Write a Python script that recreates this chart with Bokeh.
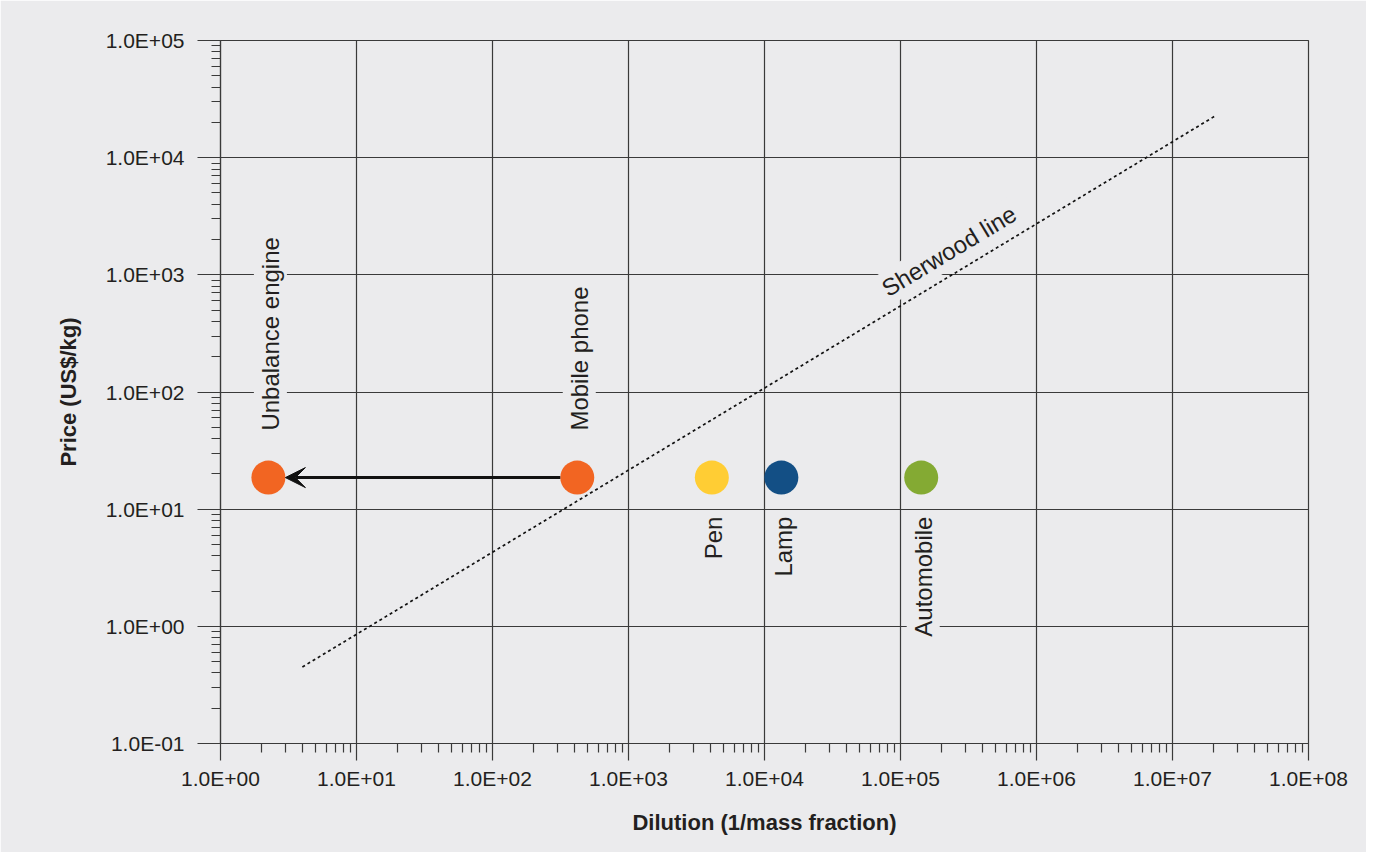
import math
from bokeh.plotting import figure
from bokeh.models import (FixedTicker, CustomJSTickFormatter, Label, Arrow,
                          VeeHead, ColumnDataSource, Range1d)
from bokeh.embed import file_html
from bokeh.resources import INLINE

# ---------------- data ----------------
products = ["Unbalance engine", "Mobile phone", "Pen", "Lamp", "Automobile"]
dilution = [2.25, 420, 4100, 13300, 142000]
price = [18.6, 18.6, 18.6, 18.6, 18.6]
colors = ["#F26522", "#F26522", "#FFCD34", "#134F85", "#84AA33"]
label_side = ["above", "above", "below", "below", "below"]

sherwood_x = [4.0, 2.1e7]
sherwood_y = [0.45, 2.3e4]
sherwood_label = "Sherwood line"

x_ticks = [1e0, 1e1, 1e2, 1e3, 1e4, 1e5, 1e6, 1e7, 1e8]
y_ticks = [1e-1, 1e0, 1e1, 1e2, 1e3, 1e4, 1e5]

x_title = "Dilution (1/mass fraction)"
y_title = "Price (US$/kg)"

# ---------------- style ----------------
BG = "#EBEBED"
INK = "#231F20"
GRID = "#3A3A3A"
FONT = "Liberation Sans"

W, H = 1366, 852
ML, MR, MT = 220, 58, 40
frame_w = W - ML - MR
frame_h = 703
MB = H - MT - frame_h
dec_x = frame_w / (math.log10(x_ticks[-1]) - math.log10(x_ticks[0]))
dec_y = frame_h / (math.log10(y_ticks[-1]) - math.log10(y_ticks[0]))
DOT = 34

p = figure(width=W, height=H, x_axis_type="log", y_axis_type="log",
           x_range=Range1d(x_ticks[0], x_ticks[-1]),
           y_range=Range1d(y_ticks[0], y_ticks[-1]),
           output_backend="svg", toolbar_location=None,
           min_border_left=ML, min_border_right=MR,
           min_border_top=MT, min_border_bottom=MB)
p.background_fill_color = BG
p.border_fill_color = BG
p.outline_line_color = GRID
p.outline_line_width = 1.2

fmt = CustomJSTickFormatter(code="""
const s = tick.toExponential(1).toUpperCase();
const parts = s.split("E");
const e = parseInt(parts[1]);
const a = Math.abs(e);
return parts[0] + "E" + (e < 0 ? "-" : "+") + (a < 10 ? "0" + a : "" + a);
""")

x_minor = [m * t for t in x_ticks[:-1] for m in range(2, 10)]
y_minor = [m * t for t in y_ticks[:-1] for m in range(2, 10)]

for ax, ticks, minor, tick_out in ((p.xaxis[0], x_ticks, x_minor, 17),
                                   (p.yaxis[0], y_ticks, y_minor, 23)):
    ax.ticker = FixedTicker(ticks=ticks, minor_ticks=minor)
    ax.formatter = fmt
    ax.major_tick_in = 0
    ax.major_tick_out = tick_out
    ax.minor_tick_in = 0
    ax.minor_tick_out = 9
    ax.axis_line_color = GRID
    ax.axis_line_width = 1.2
    ax.major_tick_line_color = GRID
    ax.major_tick_line_width = 1.2
    ax.minor_tick_line_color = GRID
    ax.minor_tick_line_width = 1.2
    ax.major_label_text_font = FONT
    ax.major_label_text_font_size = "21px"
    ax.major_label_text_color = INK
    ax.axis_label_text_font = FONT
    ax.axis_label_text_font_size = "22px"
    ax.axis_label_text_font_style = "bold"
    ax.axis_label_text_color = INK

p.xaxis.axis_label = x_title
p.yaxis.axis_label = y_title
p.xaxis.major_label_standoff = 6
p.yaxis.major_label_standoff = 13
p.xaxis.axis_label_standoff = 17
p.yaxis.axis_label_standoff = 22

p.xgrid.grid_line_color = GRID
p.ygrid.grid_line_color = GRID
p.xgrid.grid_line_width = 1.2
p.ygrid.grid_line_width = 1.2

# Sherwood line
p.line(sherwood_x, sherwood_y, line_color="#111111", line_width=1.7, line_dash="3 3")

# arrow from mobile phone to unbalance engine (edge to edge of the dots)
edge = 10 ** ((DOT / 2) / dec_x)
p.add_layout(Arrow(end=VeeHead(size=20, fill_color="#111111", line_color="#111111"),
                   x_start=dilution[1] / edge, y_start=price[1],
                   x_end=dilution[0] * edge, y_end=price[0],
                   line_color="#111111", line_width=3))

src = ColumnDataSource(dict(x=dilution, y=price, c=colors))
p.scatter("x", "y", source=src, size=DOT, fill_color="c", line_color=None)

# product labels
for name, xv, yv, side in zip(products, dilution, price, label_side):
    up = side == "above"
    p.add_layout(Label(x=xv, y=yv, text=name, angle=math.pi / 2, angle_units="rad",
                       text_align="left" if up else "right", text_baseline="middle",
                       y_offset=44 if up else -36, x_offset=2,
                       text_font=FONT, text_font_size="24px", text_color=INK,
                       background_fill_color=BG, padding=3))

# Sherwood line label
lx0, lx1 = math.log10(sherwood_x[0]), math.log10(sherwood_x[1])
ly0, ly1 = math.log10(sherwood_y[0]), math.log10(sherwood_y[1])
theta = math.atan2((ly1 - ly0) * dec_y, (lx1 - lx0) * dec_x)
t = 0.72
gap = 22
p.add_layout(Label(x=10 ** (lx0 + t * (lx1 - lx0)), y=10 ** (ly0 + t * (ly1 - ly0)),
                   text=sherwood_label, angle=theta, angle_units="rad",
                   text_align="center", text_baseline="middle",
                   x_offset=-gap * math.sin(theta), y_offset=gap * math.cos(theta),
                   text_font=FONT, text_font_size="24px", text_color=INK,
                   background_fill_color=BG, padding=3))

open("out.html", "w").write(file_html(p, INLINE))
